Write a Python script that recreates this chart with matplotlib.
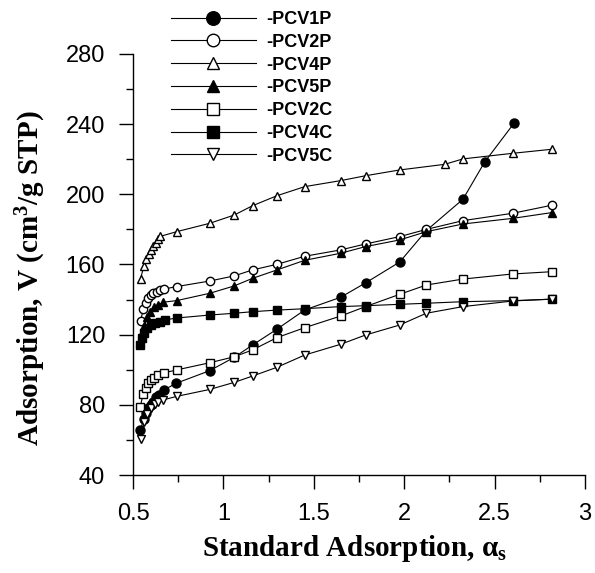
import matplotlib
matplotlib.use("Agg")
import matplotlib.pyplot as plt
from matplotlib.ticker import MultipleLocator

plt.rcParams['font.family'] = ['Liberation Sans', 'DejaVu Sans']

# ---- data ----
pcv1p_x = [0.54, 0.56, 0.573, 0.583, 0.598, 0.61, 0.629, 0.642, 0.671, 0.739, 0.925, 1.06, 1.161, 1.296, 1.45, 1.648, 1.786, 1.975, 2.122, 2.325, 2.445, 2.607]
pcv1p_y = [65.7, 71.8, 75.5, 78, 79.9, 81.8, 84.3, 85.6, 88.5, 92.3, 99.5, 107.1, 114.1, 123.1, 134.1, 141.3, 149.5, 161.4, 179.3, 197.2, 218.4, 240.5]

pcv2p_x = [0.542, 0.557, 0.57, 0.585, 0.598, 0.612, 0.631, 0.649, 0.671, 0.741, 0.925, 1.06, 1.161, 1.296, 1.45, 1.648, 1.786, 1.975, 2.122, 2.325, 2.6, 2.817]
pcv2p_y = [128, 134.5, 137.9, 140.7, 142.6, 143.6, 144.5, 145.3, 146, 147.4, 150.6, 153.5, 156.9, 160.1, 164.7, 168.3, 171.7, 175.9, 180, 185, 189.2, 193.8]

pcv4p_x = [0.542, 0.56, 0.573, 0.587, 0.60, 0.612, 0.625, 0.64, 0.65, 0.741, 0.925, 1.06, 1.161, 1.296, 1.45, 1.648, 1.786, 1.975, 2.224, 2.325, 2.601, 2.817]
pcv4p_y = [152, 159, 163, 166, 168.5, 170.5, 172.5, 174.5, 176, 178.7, 183.5, 188.2, 193.5, 199.2, 204.4, 207.8, 210.6, 213.9, 217.1, 220.2, 223.4, 225.7]

pcv5p_x = [0.54, 0.55, 0.562, 0.576, 0.594, 0.616, 0.64, 0.667, 0.741, 0.925, 1.06, 1.161, 1.296, 1.45, 1.648, 1.786, 1.975, 2.122, 2.325, 2.6, 2.817]
pcv5p_y = [116, 121, 125, 130.3, 133.1, 135.6, 136.9, 138.5, 139.4, 143.6, 147.8, 152.1, 156.9, 162.4, 166.4, 170.2, 174, 178.7, 183.1, 186.3, 189.6]

pcv2c_x = [0.54, 0.556, 0.57, 0.585, 0.60, 0.615, 0.64, 0.67, 0.741, 0.925, 1.06, 1.161, 1.296, 1.45, 1.648, 1.786, 1.975, 2.122, 2.325, 2.6, 2.817]
pcv2c_y = [79, 86, 89.8, 92.5, 94.3, 95.5, 96.8, 98.2, 99.9, 104, 107.4, 111.3, 118.3, 124, 130.6, 136, 143, 148.3, 151.7, 154.6, 155.9]

pcv4c_x = [0.539, 0.548, 0.561, 0.576, 0.598, 0.622, 0.649, 0.677, 0.741, 0.925, 1.06, 1.161, 1.296, 1.45, 1.648, 1.786, 1.975, 2.122, 2.325, 2.6, 2.817]
pcv4c_y = [114.1, 118, 120.8, 123.6, 125.5, 126.5, 127.4, 128.4, 129.5, 131.2, 132.2, 133.1, 134, 134.8, 136, 136.5, 137.3, 137.9, 138.8, 139.4, 140.2]

pcv5c_x = [0.542, 0.56, 0.58, 0.60, 0.62, 0.64, 0.667, 0.741, 0.925, 1.06, 1.161, 1.296, 1.45, 1.648, 1.786, 1.975, 2.122, 2.325, 2.6, 2.817]
pcv5c_y = [60.3, 70, 75, 78, 80.5, 81.8, 82.8, 84.8, 88.8, 92.8, 96.4, 101.4, 108.4, 114.5, 119.8, 125.5, 132.2, 136, 139.2, 140.3]

labels = ['-PCV1P', '-PCV2P', '-PCV4P', '-PCV5P', '-PCV2C', '-PCV4C', '-PCV5C']
x_ticks = [0.5, 1, 1.5, 2, 2.5, 3]
x_ticklabels = ['0.5', '1', '1.5', '2', '2.5', '3']
y_ticks = [40, 80, 120, 160, 200, 240, 280]

series = [
    (pcv1p_x, pcv1p_y, 'o', 'black', 6.5),
    (pcv2p_x, pcv2p_y, 'o', 'white', 6.0),
    (pcv4p_x, pcv4p_y, '^', 'white', 6.0),
    (pcv5p_x, pcv5p_y, '^', 'black', 6.0),
    (pcv2c_x, pcv2c_y, 's', 'white', 5.5),
    (pcv4c_x, pcv4c_y, 's', 'black', 5.5),
    (pcv5c_x, pcv5c_y, 'v', 'white', 6.0),
]

fig = plt.figure(figsize=(5.95, 5.73), dpi=100)
ax = fig.add_axes([133/595, 1-475/573, (585-133)/595, (475-54)/573])

for (xs, ys, m, fc, ms), lab in zip(series, labels):
    ax.plot(xs, ys, color='black', lw=0.8, marker=m, markersize=ms,
            markerfacecolor=fc, markeredgecolor='black', markeredgewidth=1.0,
            label=lab)

ax.set_xlim(0.5, 3)
ax.set_ylim(40, 280)
ax.set_xticks(x_ticks)
ax.set_xticklabels(x_ticklabels)
ax.set_yticks(y_ticks)
ax.xaxis.set_minor_locator(MultipleLocator(0.25))
ax.yaxis.set_minor_locator(MultipleLocator(20))
ax.spines['top'].set_visible(False)
ax.spines['right'].set_visible(False)
ax.spines['left'].set_linewidth(1.0)
ax.spines['bottom'].set_linewidth(1.0)
ax.tick_params(which='major', direction='out', length=10, width=1.0, labelsize=17, pad=10)
ax.tick_params(which='minor', direction='out', length=5, width=1.0)

serif_bold = dict(family='Liberation Serif', weight='bold', size=21)
ax.set_xlabel(r'Standard Adsorption, $\mathregular{\alpha_s}$', fontdict=serif_bold)
ax.set_ylabel(r'Adsorption, V (cm$\mathregular{^3}$/g STP)', fontdict=serif_bold)
ax.xaxis.label.set_va('center')
ax.yaxis.label.set_va('center')
ax.xaxis.set_label_coords((355-133)/452, -(548-475)/421)
ax.yaxis.set_label_coords(-(133-31)/452, (475-278)/421)

leg = ax.legend(loc='upper left', bbox_to_anchor=(171/595, 1-11/573),
                bbox_transform=fig.transFigure, frameon=False, borderpad=0,
                borderaxespad=0, handlelength=4.7, handletextpad=0.6,
                labelspacing=0.32, markerscale=1.5,
                prop=dict(family='Liberation Sans', weight='bold', size=13))

fig.savefig('out.png', dpi=100)
